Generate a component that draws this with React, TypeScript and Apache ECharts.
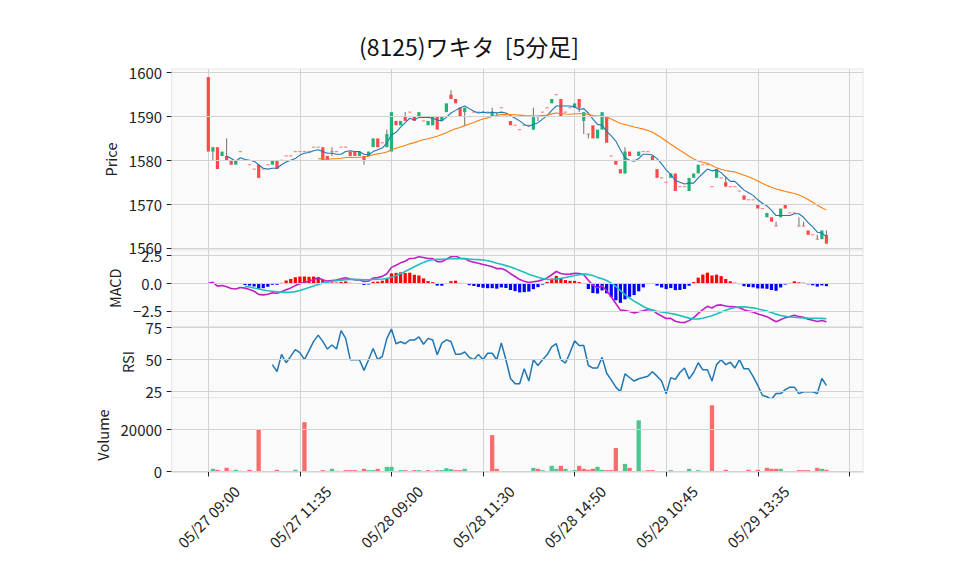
import React, { useEffect, useRef } from "react";
import * as echarts from "echarts";

// ---- data (5-minute bars, index 0..135) ----
const opens = [
  1599, 1582, 1583, 1581, 1581, 1580, 1579, 1582, 1580, 1579,
  1578, 1579, 1578, 1579, 1579, 1580, 1580, 1581, 1581, 1582,
  1582, 1582, 1582, 1583, 1583, 1583, 1581, 1582, 1582, 1583,
  1583, 1582, 1582, 1581, 1581, 1581, 1583, 1585, 1584, 1583,
  1582, 1589, 1588, 1590, 1591, 1590, 1590, 1589, 1588, 1588,
  1590, 1589, 1591, 1595, 1594, 1592, 1591, 1590, 1591, 1591,
  1591, 1591, 1590, 1590, 1592, 1590, 1589, 1588, 1587, 1588,
  1588, 1587, 1590, 1591, 1592, 1593, 1595, 1594, 1591, 1592,
  1592, 1594, 1589, 1586, 1588, 1585, 1587, 1590, 1581, 1580,
  1578, 1577, 1582, 1580, 1581, 1582, 1582, 1581, 1578, 1576,
  1575, 1576, 1577, 1574, 1574, 1573, 1576, 1577, 1579, 1579,
  1574, 1576, 1576, 1575, 1574, 1574, 1573, 1572, 1571, 1571,
  1570, 1569, 1567, 1567, 1565, 1567, 1570, 1568, 1568, 1565,
  1565, 1564, 1563, 1562, 1562, 1563,
];
const highs = [
  1599, 1583, 1583, 1582, 1585, 1580, 1580, 1582, 1580, 1579,
  1578, 1579, 1578, 1579, 1580, 1580, 1580, 1581, 1581, 1582,
  1582, 1582, 1582, 1583, 1583, 1583, 1581, 1583, 1582, 1583,
  1583, 1582, 1582, 1582, 1581, 1582, 1585, 1585, 1584, 1587,
  1591, 1589, 1589, 1591, 1591, 1590, 1591, 1589, 1589, 1590,
  1590, 1590, 1593, 1596, 1594, 1592, 1592, 1590, 1591, 1591,
  1591, 1591, 1592, 1591, 1592, 1590, 1589, 1588, 1587, 1588,
  1588, 1592, 1590, 1591, 1592, 1594, 1595, 1594, 1591, 1592,
  1593, 1594, 1591, 1586, 1588, 1587, 1591, 1590, 1581, 1580,
  1578, 1583, 1582, 1580, 1582, 1582, 1582, 1581, 1578, 1576,
  1575, 1577, 1577, 1574, 1574, 1576, 1577, 1579, 1579, 1579,
  1574, 1578, 1576, 1576, 1574, 1574, 1573, 1572, 1571, 1571,
  1570, 1569, 1568, 1567, 1566, 1569, 1570, 1568, 1568, 1567,
  1566, 1564, 1563, 1563, 1564, 1564,
];
const lows = [
  1582, 1580, 1578, 1581, 1580, 1579, 1579, 1582, 1580, 1579,
  1578, 1576, 1578, 1579, 1579, 1578, 1580, 1581, 1581, 1582,
  1582, 1582, 1582, 1583, 1583, 1580, 1580, 1581, 1582, 1583,
  1583, 1581, 1581, 1581, 1579, 1581, 1583, 1583, 1584, 1583,
  1582, 1588, 1588, 1589, 1591, 1589, 1590, 1589, 1588, 1588,
  1587, 1589, 1591, 1594, 1593, 1590, 1588, 1590, 1591, 1591,
  1591, 1591, 1590, 1590, 1592, 1590, 1588, 1588, 1587, 1588,
  1588, 1587, 1589, 1591, 1592, 1593, 1595, 1590, 1591, 1592,
  1592, 1591, 1586, 1585, 1585, 1585, 1587, 1584, 1581, 1579,
  1577, 1577, 1581, 1580, 1581, 1582, 1582, 1580, 1576, 1576,
  1575, 1576, 1573, 1574, 1574, 1573, 1576, 1577, 1579, 1579,
  1574, 1576, 1576, 1574, 1574, 1574, 1573, 1571, 1571, 1571,
  1569, 1569, 1567, 1566, 1565, 1567, 1569, 1568, 1568, 1565,
  1565, 1563, 1563, 1562, 1562, 1561,
];
const closes = [
  1582, 1583, 1578, 1582, 1580, 1579, 1580, 1582, 1580, 1579,
  1578, 1576, 1578, 1579, 1580, 1578, 1580, 1581, 1581, 1582,
  1582, 1582, 1582, 1583, 1583, 1580, 1580, 1582, 1582, 1583,
  1583, 1581, 1581, 1582, 1580, 1582, 1585, 1583, 1584, 1586,
  1591, 1588, 1589, 1589, 1591, 1589, 1591, 1589, 1589, 1590,
  1587, 1590, 1593, 1594, 1593, 1590, 1592, 1590, 1591, 1591,
  1591, 1591, 1591, 1590, 1592, 1590, 1588, 1588, 1587, 1588,
  1588, 1590, 1590, 1591, 1592, 1594, 1595, 1590, 1591, 1592,
  1593, 1592, 1591, 1586, 1585, 1587, 1591, 1584, 1581, 1579,
  1577, 1582, 1581, 1580, 1582, 1582, 1582, 1580, 1576, 1576,
  1575, 1577, 1573, 1574, 1574, 1576, 1577, 1579, 1579, 1579,
  1574, 1578, 1576, 1574, 1574, 1574, 1573, 1571, 1571, 1571,
  1569, 1569, 1568, 1566, 1565, 1569, 1569, 1568, 1568, 1565,
  1565, 1563, 1563, 1562, 1564, 1561,
];
const volumes = [
  100, 1260, 790, 150, 1730, 300, 790, 300, 150, 790,
  100, 20160, 150, 150, 150, 790, 150, 150, 150, 790,
  100, 23470, 150, 150, 150, 630, 150, 1260, 300, 200,
  630, 630, 630, 300, 1260, 630, 630, 1260, 200, 2200,
  2200, 200, 630, 630, 200, 630, 630, 200, 630, 200,
  630, 630, 1570, 1100, 630, 630, 1260, 200, 200, 200,
  200, 200, 17300, 1260, 200, 200, 200, 200, 200, 200,
  200, 1730, 1260, 630, 200, 2680, 1260, 2680, 1260, 300,
  630, 2680, 1260, 790, 1260, 2200, 790, 630, 630, 11180,
  200, 3620, 1730, 200, 24400, 300, 630, 630, 200, 200,
  200, 630, 200, 200, 200, 1260, 200, 630, 200, 200,
  31500, 200, 200, 790, 200, 200, 200, 200, 790, 200,
  790, 200, 1730, 1260, 1260, 1260, 200, 200, 200, 630,
  630, 630, 200, 1730, 1260, 790,
];

const titleText = "(8125)ワキタ  [5分足]";
const xTickLabels = [
  "05/27 09:00",
  "05/27 11:35",
  "05/28 09:00",
  "05/28 11:30",
  "05/28 14:50",
  "05/29 10:45",
  "05/29 13:35",
  "",
];
const xTickStep = 20;
const priceTicks = [1560, 1570, 1580, 1590, 1600];
const macdTicks = [-2.5, 0, 2.5];
const rsiTicks = [25, 50, 75];
const volumeTicks = [0, 20000];

// ---- styles ----
const FONT = "'Noto Sans CJK JP', 'Noto Sans', sans-serif";
const UP = "#1db374";
const DOWN = "#fb4a4c";
const WICK = "#707070";
const VOL_UP = "#4dc790";
const VOL_DOWN = "#fd6b6c";
const GRID = "#d3d3d3";
const TXT = "#222222";
const PAD_L = 8;
const PAD_R = 8;

// ---- indicator helpers (derived from the closes) ----
function sma(arr: (number | null)[], n: number): (number | null)[] {
  return arr.map((_, i) => {
    if (i < n - 1) return null;
    let s = 0;
    for (let k = i - n + 1; k <= i; k++) {
      const v = arr[k];
      if (v == null) return null;
      s += v;
    }
    return s / n;
  });
}
function ema(arr: number[], n: number): number[] {
  const a = 2 / (n + 1);
  const out: number[] = [];
  arr.forEach((v, i) => out.push(i === 0 ? v : a * v + (1 - a) * out[i - 1]));
  return out;
}
function rsi(arr: number[], n: number): (number | null)[] {
  return arr.map((_, i) => {
    if (i < n) return null;
    let g = 0;
    let l = 0;
    for (let k = i - n + 1; k <= i; k++) {
      const d = arr[k] - arr[k - 1];
      if (d > 0) g += d;
      else l -= d;
    }
    return g + l === 0 ? 50 : (100 * g) / (g + l);
  });
}

export default function App() {
  const ref = useRef<HTMLDivElement>(null);
  useEffect(() => {
    if (!ref.current) return;
    const chart = echarts.init(ref.current, undefined, { renderer: "svg" });
    const N = closes.length;
    const cats: string[] = [];
    for (let i = -PAD_L; i < N + PAD_R; i++) cats.push(String(i));
    const pad = (a: any[]) => [
      ...Array(PAD_L).fill(null),
      ...a,
      ...Array(PAD_R).fill(null),
    ];
    const isTick = (j: number) => {
      const i = j - PAD_L;
      return i >= 0 && i % xTickStep === 0;
    };

    const ma5 = sma(closes, 5);
    const ma25 = sma(closes, 25);
    const e12 = ema(closes, 12);
    const e26 = ema(closes, 26);
    const macd = closes.map((_, i) => e12[i] - e26[i]);
    const signal = sma(macd, 9);
    const hist = macd.map((m, i) =>
      signal[i] == null
        ? null
        : {
            value: m - (signal[i] as number),
            itemStyle: { color: m - (signal[i] as number) >= 0 ? "#ff0000" : "#0000ff" },
          }
    );
    const rsiVals = rsi(closes, 14);
    const volData = volumes.map((v, i) => {
      const up = i === 0 ? opens[0] < closes[0] : closes[i - 1] < closes[i];
      return { value: v, itemStyle: { color: up ? VOL_UP : VOL_DOWN } };
    });
    const candleData = closes.map((c, i) => [
      i + PAD_L,
      opens[i],
      c,
      lows[i],
      highs[i],
    ]);

    const left = 171.67;
    const width = 691.4;
    const panels = [
      { top: 69, height: 181 },
      { top: 250, height: 76.5 },
      { top: 326.5, height: 71 },
      { top: 397.5, height: 75 },
    ];
    const grids = panels.map((p) => ({
      left,
      width,
      top: p.top,
      height: p.height,
      show: true,
      backgroundColor: "#fafafa",
      borderColor: "#e6e6e6",
      borderWidth: 1,
      outerBoundsMode: "none",
      containLabel: false,
    }));
    const xAxes = panels.map((_, k) => ({
      type: "category",
      gridIndex: k,
      data: cats,
      boundaryGap: false,
      axisLine: { show: false },
      axisTick: {
        show: k === 3,
        interval: (j: number) => isTick(j),
        length: 5,
        lineStyle: { color: TXT, width: 1 },
      },
      axisLabel: {
        show: k === 3,
        interval: (j: number) => isTick(j),
        formatter: (_v: string, j: number) => {
          const i = j - PAD_L;
          return xTickLabels[i / xTickStep] ?? "";
        },
        rotate: 45,
        align: "center",
        verticalAlign: "middle",
        margin: 44,
        fontSize: 15,
        fontFamily: FONT,
        color: TXT,
      },
      splitLine: {
        show: true,
        interval: (j: number) => isTick(j),
        lineStyle: { color: GRID, width: 1 },
      },
    }));
    const yDefs = [
      { name: "Price", min: 1559.54, max: 1600.84, ticks: priceTicks, gap: 45, fmt: (v: number) => String(v) },
      {
        name: "MACD",
        min: -3.9,
        max: 3.0,
        ticks: macdTicks,
        gap: 43,
        fmt: (v: number) => (v < 0 ? "\u2212" + Math.abs(v).toFixed(1) : v.toFixed(1)),
      },
      { name: "RSI", min: 20.47, max: 75.94, ticks: rsiTicks, gap: 29, fmt: (v: number) => String(v) },
      { name: "Volume", min: -500, max: 35240, ticks: volumeTicks, gap: 59, fmt: (v: number) => String(v) },
    ];
    const yAxes = yDefs.map((d, k) => ({
      type: "value",
      gridIndex: k,
      min: d.min,
      max: d.max,
      scale: true,
      name: d.name,
      nameLocation: "middle",
      nameGap: d.gap,
      nameTextStyle: { fontSize: 14.5, fontFamily: FONT, color: TXT },
      axisLine: { show: false },
      axisTick: {
        show: true,
        customValues: d.ticks,
        length: 5,
        lineStyle: { color: TXT, width: 1 },
      },
      axisLabel: {
        customValues: d.ticks,
        formatter: d.fmt,
        margin: 9.5,
        fontSize: 15,
        fontFamily: FONT,
        color: TXT,
      },
      splitLine: { show: false },
    }));
    const gridLineSeries = yDefs.map((d, k) => ({
      type: "line",
      xAxisIndex: k,
      yAxisIndex: k,
      data: pad(closes.map(() => null)),
      z: 1,
      silent: true,
      showSymbol: false,
      markLine: {
        silent: true,
        symbol: ["none", "none"],
        label: { show: false },
        lineStyle: { color: GRID, type: "solid", width: 1 },
        data: d.ticks.map((v) => ({ yAxis: v })),
        animation: false,
      },
    }));

    chart.setOption({
      animation: false,
      backgroundColor: "#ffffff",
      graphic: [
        {
          type: "text",
          x: 469,
          y: 46,
          style: {
            text: titleText,
            fontSize: 23,
            fontFamily: FONT,
            fill: "#111111",
            textAlign: "center",
            textVerticalAlign: "middle",
          },
        },
      ],
      grid: grids,
      xAxis: xAxes,
      yAxis: yAxes,
      series: [
        ...gridLineSeries,
        {
          type: "custom",
          name: "candles",
          xAxisIndex: 0,
          yAxisIndex: 0,
          z: 3,
          encode: { x: 0, y: [1, 2, 3, 4] },
          data: candleData,
          renderItem: (_p: any, api: any) => {
            const j = api.value(0);
            const o = api.value(1);
            const c = api.value(2);
            const l = api.value(3);
            const h = api.value(4);
            const pO = api.coord([j, o]);
            const pC = api.coord([j, c]);
            const pH = api.coord([j, h]);
            const pL = api.coord([j, l]);
            const bw = api.size([1, 0])[0] * 0.7;
            const x = pO[0];
            const children: any[] = [];
            if (h > Math.max(o, c) || l < Math.min(o, c)) {
              children.push({
                type: "line",
                shape: { x1: x, y1: pH[1], x2: x, y2: pL[1] },
                style: { stroke: WICK, lineWidth: 1 },
              });
            }
            if (o === c) {
              children.push({
                type: "rect",
                shape: { x: x - bw / 2, y: pO[1] - 0.6, width: bw, height: 1.2 },
                style: { fill: DOWN, opacity: 0.65 },
              });
            } else {
              children.push({
                type: "rect",
                shape: {
                  x: x - bw / 2,
                  y: Math.min(pO[1], pC[1]),
                  width: bw,
                  height: Math.abs(pO[1] - pC[1]),
                },
                style: { fill: c > o ? UP : DOWN },
              });
            }
            return { type: "group", children };
          },
        },
        {
          type: "line",
          name: "MA5",
          xAxisIndex: 0,
          yAxisIndex: 0,
          data: pad(ma5),
          showSymbol: false,
          z: 4,
          lineStyle: { color: "#1f77b4", width: 1.1 },
        },
        {
          type: "line",
          name: "MA25",
          xAxisIndex: 0,
          yAxisIndex: 0,
          data: pad(ma25),
          showSymbol: false,
          z: 4,
          lineStyle: { color: "#ff7f0e", width: 1.1 },
        },
        {
          type: "bar",
          name: "hist",
          xAxisIndex: 1,
          yAxisIndex: 1,
          data: pad(hist),
          barWidth: "70%",
          z: 2,
        },
        {
          type: "line",
          name: "MACD",
          xAxisIndex: 1,
          yAxisIndex: 1,
          data: pad(macd),
          showSymbol: false,
          z: 4,
          lineStyle: { color: "#bf1fbf", width: 1.6 },
        },
        {
          type: "line",
          name: "Signal",
          xAxisIndex: 1,
          yAxisIndex: 1,
          data: pad(signal),
          showSymbol: false,
          z: 4,
          lineStyle: { color: "#1fbfbf", width: 1.6 },
        },
        {
          type: "line",
          name: "RSI",
          xAxisIndex: 2,
          yAxisIndex: 2,
          data: pad(rsiVals),
          showSymbol: false,
          z: 4,
          lineStyle: { color: "#1f77b4", width: 1.5 },
        },
        {
          type: "bar",
          name: "Volume",
          xAxisIndex: 3,
          yAxisIndex: 3,
          data: pad(volData),
          barWidth: "94%",
          z: 2,
        },
      ],
    });
    return () => chart.dispose();
  }, []);
  return (
    <div
      ref={ref}
      style={{ position: "fixed", left: 0, top: 0, width: 958, height: 575, background: "#fff" }}
    />
  );
}
